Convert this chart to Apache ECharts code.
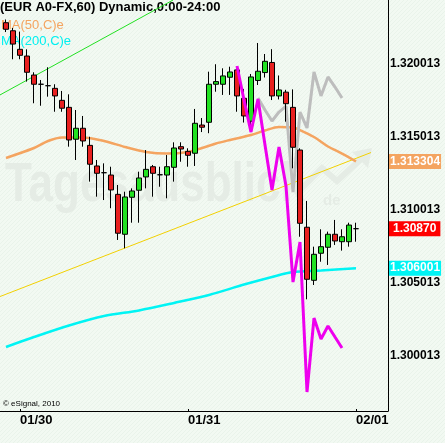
<!DOCTYPE html>
<html><head><meta charset="utf-8">
<script src="https://cdn.jsdelivr.net/npm/echarts@6/dist/echarts.min.js"></script>
<style>html,body{margin:0;padding:0;background:#F1F8F1}#c{width:445px;height:443px}</style>
</head><body><div id="c"></div>
<script>
// ---- data (hourly bars, index 0..50) ----
const dateLabels = ['01/30', '01/31', '02/01'];
const dateBarIndex = [2, 26, 50];
const priceTicks = [1.300013, 1.305013, 1.310013, 1.315013, 1.320013];

const opens  = [1.32279,1.32224,1.32097,1.32051,1.31921,1.31858,1.31848,1.31830,1.31748,1.31700,
                1.31482,1.31557,1.31440,1.31299,1.31253,1.31237,1.31105,1.30832,1.31085,1.31133,
                1.31224,1.31294,1.31239,1.31237,1.31290,1.31431,1.31399,1.31386,1.31579,1.31598,
                1.31858,1.31858,1.31906,1.31956,1.31762,1.31605,1.31884,1.31938,1.32007,1.31778,
                1.31804,1.31700,1.31408,1.30880,1.30517,1.30702,1.30743,1.30832,1.30781,1.30781,1.30870];
const closes = [1.32234,1.32133,1.32056,1.31940,1.31858,1.31858,1.31848,1.31778,1.31694,1.31477,
                1.31557,1.31470,1.31311,1.31249,1.31253,1.31135,1.30839,1.31087,1.31128,1.31217,
                1.31276,1.31249,1.31239,1.31294,1.31422,1.31415,1.31372,1.31591,1.31564,1.31858,
                1.31876,1.31915,1.31942,1.31778,1.31641,1.31908,1.31947,1.32015,1.31778,1.31819,
                1.31725,1.31427,1.30907,1.30524,1.30695,1.30747,1.30832,1.30786,1.30815,1.30895,1.30870];
const lows   = [1.32215,1.32029,1.32029,1.31876,1.31728,1.31711,1.31773,1.31670,1.31670,1.31431,
                1.31340,1.31431,1.31192,1.31089,1.31066,1.31010,1.30793,1.30736,1.30911,1.30911,
                1.31146,1.31089,1.31157,1.31078,1.31192,1.31328,1.31294,1.31299,1.31531,1.31523,
                1.31807,1.31785,1.31785,1.31670,1.31596,1.31568,1.31853,1.31904,1.31750,1.31754,
                1.31602,1.31283,1.30815,1.30387,1.30485,1.30644,1.30622,1.30759,1.30720,1.30747,1.30781];
const highs  = [1.32301,1.32243,1.32218,1.32097,1.31940,1.31887,1.31974,1.31858,1.31812,1.31789,
                1.31682,1.31641,1.31499,1.31340,1.31317,1.31294,1.31169,1.31123,1.31146,1.31260,
                1.31408,1.31306,1.31294,1.31374,1.31461,1.31461,1.31420,1.31689,1.31627,1.31944,
                1.31995,1.31967,1.31978,1.31978,1.31826,1.31928,1.32140,1.32065,1.32098,1.31918,
                1.31820,1.31823,1.31420,1.31060,1.30747,1.30866,1.30850,1.30930,1.30866,1.30911,1.30911];

// MA(50,C) read at selected bars
const ma50Bars = [0,4,6,8,11,14,17,20,23,26,28,30,32,35,37,39,41,42,44,46,48,50];
const ma50Vals = [1.31354,1.31422,1.31470,1.31494,1.31494,1.31470,1.31429,1.31395,1.31384,1.31395,
                  1.31422,1.31453,1.31477,1.31511,1.31542,1.31566,1.31562,1.31545,1.31497,1.31432,1.31384,1.313304];
// MA(200,C) read at selected bars
const ma200Bars = [0,4,9,14,19,24,29,34,38,41,45,50];
const ma200Vals = [1.30061,1.30129,1.30208,1.30273,1.30311,1.30362,1.30417,1.30488,1.30540,1.30574,1.30584,1.306001];

// projection lines
const magentaBars = [33,34,35,36,37,38,39,40,41,42,43,44,45,46,47,48];
const magentaVals = [1.31983,1.31750,1.31531,1.31757,1.31442,1.31134,1.31429,1.31162,1.30505,1.30779,
                     1.29753,1.30259,1.30116,1.30205,1.30129,1.30054];
const grayBars = [36,37,38,39,40,41,42,43,44,45,46,47,48];
const grayVals = [1.31764,1.31682,1.31607,1.31668,1.31709,1.31121,1.31668,1.31559,1.31942,1.31778,1.31908,1.31839,1.31764];

// trend lines (endpoints in bar units)
const greenBars = [-0.857, 23.86];
const greenVals = [1.31785, 1.32434];
const yellowBars = [-0.857, 52.14];
const yellowVals = [1.30406, 1.31391];

// ---- build ----
const pair = (xs, ys) => xs.map((x, i) => [x, ys[i]]);
const candles = opens.map((o, i) => [i, o, closes[i], lows[i], highs[i]]);

const bg = document.createElement('canvas');
bg.width = 4; bg.height = 4;
const g = bg.getContext('2d');
g.fillStyle = '#F2F9F2'; g.fillRect(0, 0, 4, 4);
g.fillStyle = '#E9F3EA';
for (let k = 0; k < 4; k++) g.fillRect(3 - k, k, 1, 1);

const FONT = 'Liberation Sans, Arial, sans-serif';
const X_MIN = -6 / 7, X_MAX = 382 / 7;
const lastMa50 = ma50Vals[ma50Vals.length - 1];
const lastMa200 = ma200Vals[ma200Vals.length - 1];
const lastClose = closes[closes.length - 1];

const tag = (value, text, color, pad) => ({
  silent: true, symbol: 'none', animation: false, precision: 6,
  lineStyle: {color: 'rgba(0,0,0,0)', width: 0},
  label: {show: true, position: 'end', distance: 1, color: '#fff', fontWeight: 'bold', fontSize: 12,
          fontFamily: FONT, padding: pad || [2, 1, 1, 1], opacity: 1, formatter: text, backgroundColor: color},
  data: [{yAxis: value}]
});

const chart = echarts.init(document.getElementById('c'), null, {renderer: 'canvas'});
chart.setOption({
  animation: false,
  backgroundColor: {image: bg, repeat: 'repeat'},
  grid: {left: 0, right: 57, top: 0, bottom: 32},
  xAxis: {
    type: 'value', min: X_MIN, max: X_MAX,
    axisLine: {show: true, onZero: false, lineStyle: {color: '#000', width: 1}},
    axisTick: {show: true, inside: true, length: 2, customValues: dateBarIndex, lineStyle: {color: '#000'}},
    axisLabel: {
      customValues: dateBarIndex, align: 'left', margin: 3,
      formatter: v => dateLabels[dateBarIndex.indexOf(Math.round(v))] || '',
      color: '#000', fontWeight: 'bold', fontSize: 13, fontFamily: FONT
    },
    splitLine: {show: false}
  },
  yAxis: {
    type: 'value', position: 'right', min: 1.296231, max: 1.324343,
    axisLine: {show: true, onZero: false, lineStyle: {color: '#000', width: 1}},
    axisTick: {show: false},
    axisLabel: {
      customValues: priceTicks, margin: 2,
      formatter: v => v.toFixed(6),
      color: '#000', fontWeight: 'bold', fontSize: 12, fontFamily: FONT
    },
    splitLine: {show: false}
  },
  graphic: [
    {type: 'text', z: 0, x: 5, y: 186, scaleY: 1.25,
     style: {text: 'Tagesausblick', font: 'bold 44px ' + FONT, fill: '#E5ECE5', textVerticalAlign: 'middle'}},
    {type: 'text', z: 0, x: 323, y: 201,
     style: {text: 'de', font: 'bold 15px ' + FONT, fill: '#E5ECE5', textVerticalAlign: 'middle'}},
    {type: 'polyline', z: 0, shape: {points: [[298, 192], [322, 168], [337, 181], [362, 158]]},
     style: {stroke: '#E5ECE5', lineWidth: 6, fill: null}},
    {type: 'polygon', z: 0, shape: {points: [[352, 152], [372, 148], [368, 168]]},
     style: {fill: '#E5ECE5'}},
    {type: 'text', z: 0, x: 0, y: 7.5,
     style: {text: '(EUR A0-FX,60) Dynamic,0:00-24:00', font: 'bold 13px ' + FONT, fill: '#000', textVerticalAlign: 'middle'}},
    {type: 'text', z: 0, x: 1, y: 25,
     style: {text: 'MA(50,C)e', font: '13px ' + FONT, fill: '#F4A460', textVerticalAlign: 'middle'}},
    {type: 'text', z: 0, x: 1, y: 41.5,
     style: {text: 'MA(200,C)e', font: '13px ' + FONT, fill: '#00F0F0', textVerticalAlign: 'middle'}},
    {type: 'text', z: 0, x: 3, y: 404,
     style: {text: '\u00A9 eSignal, 2010', font: '8px ' + FONT, fill: '#000', textVerticalAlign: 'middle'}}
  ],
  series: [
    {type: 'line', name: 'green', data: pair(greenBars, greenVals), symbol: 'none', z: 1,
     lineStyle: {color: '#22E022', width: 1}},
    {type: 'line', name: 'yellow', data: pair(yellowBars, yellowVals), symbol: 'none', z: 1,
     lineStyle: {color: '#F2D000', width: 1}},
    {type: 'line', name: 'MA200', data: pair(ma200Bars, ma200Vals), symbol: 'none', smooth: 0.3, z: 1,
     lineStyle: {color: '#00F4F4', width: 2.5},
     markLine: tag(lastMa200, lastMa200.toFixed(6), '#00F4F4')},
    {type: 'line', name: 'MA50', data: pair(ma50Bars, ma50Vals), symbol: 'none', smooth: 0.3, z: 1,
     lineStyle: {color: '#F4A460', width: 2.5},
     markLine: tag(lastMa50, lastMa50.toFixed(6), '#F4A460')},
    {type: 'line', name: 'gray', data: pair(grayBars, grayVals), symbol: 'none', z: 1,
     lineStyle: {color: '#BDBDBD', width: 3}},
    {type: 'candlestick', name: 'EUR', data: candles, encode: {x: 0, y: [1, 2, 3, 4]}, barWidth: 5, z: 2,
     itemStyle: {color: '#22E222', color0: '#E82020', borderColor: '#000', borderColor0: '#000', borderWidth: 1},
     markLine: tag(lastClose, lastClose.toFixed(5), '#FF0000', [2, 4, 1, 4])},
    {type: 'line', name: 'magenta', data: pair(magentaBars, magentaVals), symbol: 'none', z: 3,
     lineStyle: {color: '#EE00EE', width: 3}}
  ]
});
</script>
</body></html>
